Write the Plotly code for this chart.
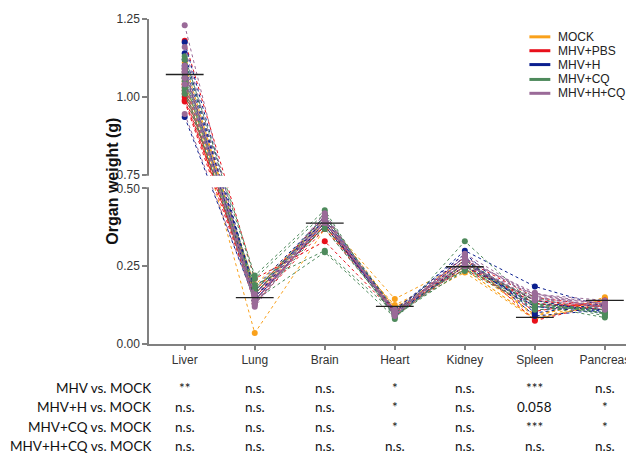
import plotly.graph_objects as go

organs = ["Liver", "Lung", "Brain", "Heart", "Kidney", "Spleen", "Pancreas"]
groups = ["MOCK", "MHV+PBS", "MHV+H", "MHV+CQ", "MHV+H+CQ"]
colors = ["#F9A11B", "#E8101B", "#0B1F8F", "#4E8A5C", "#9A6A98"]

# organ weights (g) per mouse, in organ order
mock = [
    [1.09, 0.17, 0.40, 0.145, 0.26, 0.088, 0.150],
    [1.06, 0.035, 0.37, 0.125, 0.24, 0.080, 0.145],
    [1.11, 0.16, 0.41, 0.115, 0.27, 0.092, 0.140],
    [1.04, 0.18, 0.38, 0.110, 0.23, 0.078, 0.135],
    [1.08, 0.19, 0.39, 0.118, 0.25, 0.095, 0.142],
    [1.05, 0.16, 0.38, 0.112, 0.24, 0.082, 0.128],
]
mhv_pbs = [
    [1.18, 0.21, 0.33, 0.100, 0.28, 0.075, 0.130],
    [0.985, 0.14, 0.38, 0.105, 0.25, 0.130, 0.120],
    [1.00, 0.15, 0.40, 0.095, 0.26, 0.140, 0.110],
    [1.02, 0.16, 0.39, 0.110, 0.24, 0.120, 0.130],
    [1.03, 0.13, 0.37, 0.100, 0.27, 0.150, 0.120],
    [0.99, 0.17, 0.41, 0.090, 0.25, 0.105, 0.140],
    [1.01, 0.15, 0.38, 0.105, 0.26, 0.130, 0.110],
    [1.04, 0.14, 0.39, 0.100, 0.25, 0.140, 0.120],
]
mhv_h = [
    [1.175, 0.16, 0.41, 0.100, 0.30, 0.185, 0.120],
    [1.14, 0.15, 0.40, 0.110, 0.28, 0.090, 0.110],
    [0.935, 0.14, 0.39, 0.090, 0.26, 0.120, 0.100],
    [1.12, 0.17, 0.40, 0.105, 0.27, 0.110, 0.120],
    [1.08, 0.15, 0.38, 0.100, 0.25, 0.130, 0.110],
    [1.10, 0.18, 0.41, 0.110, 0.29, 0.100, 0.130],
    [1.06, 0.16, 0.40, 0.095, 0.26, 0.140, 0.100],
    [1.09, 0.14, 0.39, 0.100, 0.27, 0.120, 0.110],
]
mhv_cq = [
    [1.13, 0.22, 0.43, 0.080, 0.33, 0.125, 0.085],
    [1.12, 0.21, 0.42, 0.090, 0.24, 0.130, 0.100],
    [1.05, 0.19, 0.30, 0.100, 0.235, 0.120, 0.110],
    [1.03, 0.14, 0.295, 0.085, 0.26, 0.140, 0.090],
    [1.01, 0.18, 0.37, 0.095, 0.25, 0.110, 0.120],
    [1.07, 0.16, 0.40, 0.100, 0.27, 0.130, 0.100],
    [1.02, 0.17, 0.41, 0.110, 0.24, 0.150, 0.095],
    [1.06, 0.13, 0.38, 0.090, 0.26, 0.125, 0.110],
]
mhv_h_cq = [
    [1.23, 0.12, 0.40, 0.095, 0.27, 0.160, 0.140],
    [1.16, 0.13, 0.41, 0.100, 0.28, 0.150, 0.130],
    [0.945, 0.14, 0.39, 0.105, 0.26, 0.140, 0.120],
    [1.10, 0.15, 0.42, 0.090, 0.29, 0.155, 0.130],
    [1.08, 0.13, 0.40, 0.100, 0.27, 0.165, 0.110],
    [1.04, 0.16, 0.39, 0.110, 0.26, 0.145, 0.125],
    [1.06, 0.14, 0.41, 0.100, 0.28, 0.150, 0.120],
    [1.09, 0.125, 0.40, 0.095, 0.25, 0.160, 0.130],
]
group_data = [mock, mhv_pbs, mhv_h, mhv_cq, mhv_h_cq]

tick_values = [0.00, 0.25, 0.50, 0.75, 1.00, 1.25]
tick_text = ["0.00", "0.25", "0.50", "0.75", "1.00", "1.25"]

row_labels = ["MHV vs. MOCK", "MHV+H vs. MOCK", "MHV+CQ vs. MOCK", "MHV+H+CQ vs. MOCK"]
sig_rows = [
    ["**", "n.s.", "n.s.", "*", "n.s.", "***", "n.s."],
    ["n.s.", "n.s.", "n.s.", "*", "n.s.", "0.058", "*"],
    ["n.s.", "n.s.", "n.s.", "*", "n.s.", "***", "*"],
    ["n.s.", "n.s.", "n.s.", "n.s.", "n.s.", "n.s.", "n.s."],
]

# broken y-axis: 0-0.5 and 0.75-1.25 joined with a small gap
BREAK_LO, BREAK_HI, GAP = 0.50, 0.75, 0.0446


def t(v):
    return v if v <= BREAK_LO else v - (BREAK_HI - BREAK_LO) + GAP


# the page body has an 8px margin: window px -> paper coords
PX_L, PX_R, PX_T, PX_B = 149, 630, 16, 344


def px_x(px):
    return (px - PX_L) / (PX_R - PX_L)


def px_y(py):
    return (PX_B - py) / (PX_B - PX_T)


fig = go.Figure()
for name, color, mice in zip(groups, colors, group_data):
    for row in mice:
        fig.add_trace(go.Scatter(
            x=organs, y=[t(v) for v in row], mode="lines+markers",
            line=dict(color=color, width=1, dash="dot"),
            marker=dict(color=color, size=6),
            showlegend=False, hoverinfo="skip"))

# mean of MOCK group
means = [sum(m[i] for m in mock) / len(mock) for i in range(len(organs))]
fig.add_trace(go.Scatter(
    x=organs, y=[t(v) for v in means], mode="markers",
    marker=dict(symbol="line-ew", size=27, line=dict(color="#222222", width=1.3)),
    showlegend=False, hoverinfo="skip"))

axis_col = "#808080"
fig.update_layout(
    width=626, height=449,
    margin=dict(l=141, r=4, t=8, b=113),
    paper_bgcolor="white", plot_bgcolor="white",
    font=dict(family="Liberation Sans, Arial, sans-serif", size=12, color="#222222"),
    showlegend=False,
    xaxis=dict(type="category", range=[-0.51, 6.33], showline=True,
               linecolor=axis_col, linewidth=1.5, ticks="outside", ticklen=4,
               tickcolor=axis_col, tickwidth=1.5, showgrid=False, zeroline=False,
               tickfont=dict(size=12, color="#333333")),
    yaxis=dict(range=[0, t(1.25)], tickmode="array",
               tickvals=[t(v) for v in tick_values], ticktext=tick_text,
               showline=True, linecolor=axis_col, linewidth=1.5,
               ticks="outside", ticklen=5, tickcolor=axis_col, tickwidth=1.5,
               showgrid=False, zeroline=False,
               tickfont=dict(size=12, color="#333333")),
)

# white band that cuts the axis and the lines at the break
fig.add_shape(type="rect", xref="paper", yref="y", x0=-0.006, x1=1.0,
              y0=BREAK_LO + 0.004, y1=t(BREAK_HI) - 0.004,
              fillcolor="white", line=dict(width=0), layer="above")

# legend (compact, as in the reference)
leg_y = [34, 48, 62, 77, 91]
for name, color, py in zip(groups, colors, leg_y):
    fig.add_shape(type="line", xref="paper", yref="paper",
                  x0=px_x(531), x1=px_x(552), y0=px_y(py), y1=px_y(py),
                  line=dict(color=color, width=3))
    fig.add_annotation(text=name, xref="paper", yref="paper", x=px_x(558), y=px_y(py),
                       xanchor="left", yanchor="middle", showarrow=False,
                       font=dict(size=12, color="#222222"))

fig.add_annotation(text="<b>Organ weight (g)</b>", xref="paper", yref="paper",
                   x=px_x(112), y=0.5, textangle=-90, showarrow=False,
                   font=dict(size=16, color="#111111"), xanchor="center", yanchor="middle")

row_y = [388, 408, 428, 447]
for label, vals, py in zip(row_labels, sig_rows, row_y):
    yp = px_y(py)
    fig.add_annotation(text=label, xref="paper", yref="paper", x=px_x(153), y=yp,
                       xanchor="right", yanchor="middle", showarrow=False,
                       font=dict(family="Lato, Open Sans, sans-serif", size=13.5, color="#111111"))
    for organ, v in zip(organs, vals):
        fig.add_annotation(text=v, xref="x", yref="paper", x=organ, y=yp,
                           xanchor="center", yanchor="middle", showarrow=False,
                           font=dict(family="Lato, Open Sans, sans-serif", size=13.5, color="#111111"))

fig.write_html("out.html")
